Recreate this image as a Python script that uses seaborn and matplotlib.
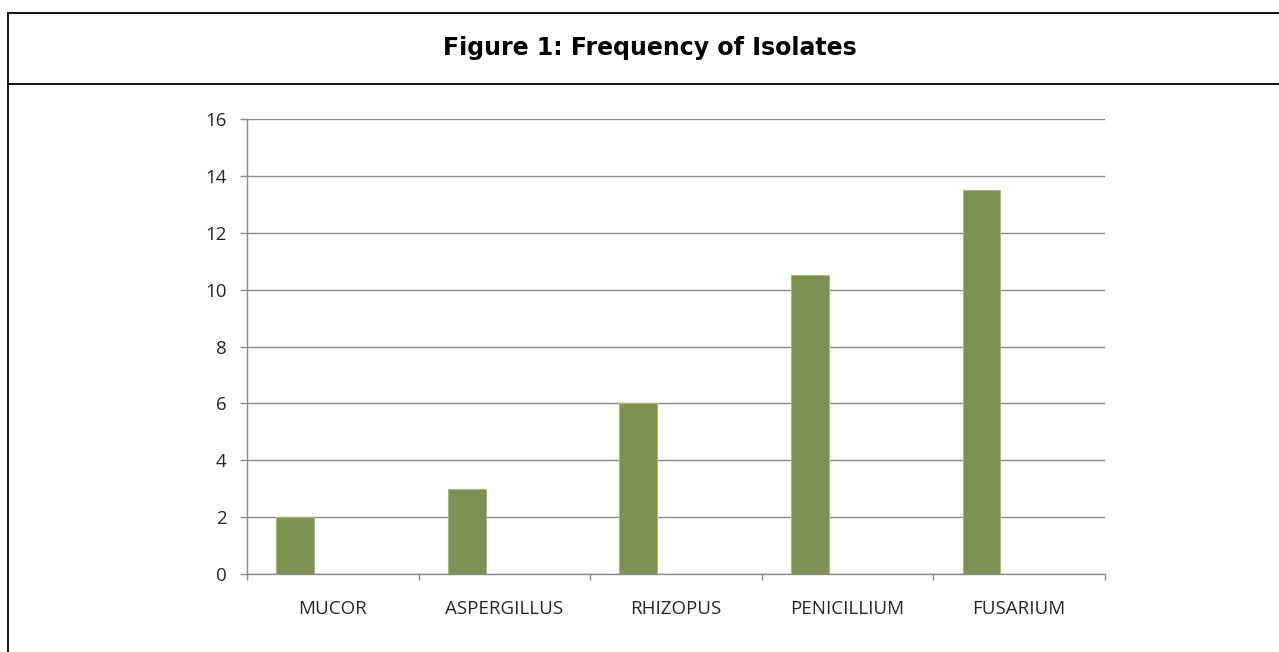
import pandas as pd
import numpy as np
import matplotlib.pyplot as plt
import seaborn as sns
from matplotlib.lines import Line2D

# Данные
isolates = ['MUCOR', 'ASPERGILLUS', 'RHIZOPUS', 'PENICILLIUM', 'FUSARIUM']
frequency = [2, 3, 6, 10.5, 13.5]
# пустые серии из исходной таблицы (Excel оставил под них место)
series_names = ['Series1', 'Series2', 'Series3']
empty_series = [np.nan] * len(isolates)

df = pd.DataFrame({
    'isolate': isolates * 3,
    'series': [s for s in series_names for _ in isolates],
    'value': frequency + empty_series + empty_series,
})

sns.set_style('white')
plt.rcParams['font.family'] = ['DejaVu Sans']

fig = plt.figure(figsize=(12.79, 6.52), dpi=100)
ax = fig.add_axes([0.1931, 0.1196, 0.6709, 0.6979])

sns.barplot(data=df, x='isolate', y='value', hue='series', hue_order=series_names,
            palette=['#7F9B49', '#7F9B49', '#7F9B49'], width=0.66, gap=0,
            edgecolor='#A3BC78', linewidth=0.8, legend=False, ax=ax, errorbar=None)

ax.set_ylim(0, 16)
ax.set_yticks(np.arange(0, 17, 2))
ax.set_xlim(-0.5, len(isolates) - 0.5)
ax.set_xlabel('')
ax.set_ylabel('')
ax.yaxis.grid(True, color='#8C8C8C', linewidth=1)
ax.set_axisbelow(True)

for s in ['top', 'right']:
    ax.spines[s].set_visible(False)
for s in ['left', 'bottom']:
    ax.spines[s].set_color('#8C8C8C')
    ax.spines[s].set_linewidth(1)

ax.set_xticks(np.arange(-0.5, len(isolates), 1), minor=True)
ax.tick_params(which='both', bottom=True, left=True)
ax.tick_params(axis='x', which='major', length=0, pad=19, labelsize=13.5, labelcolor='#262626')
ax.tick_params(axis='x', which='minor', length=4.5, color='#8C8C8C', width=1)
ax.tick_params(axis='y', length=5, color='#8C8C8C', width=1, pad=9.5, labelsize=13.5, labelcolor='#262626')
for lab in ax.get_xticklabels() + ax.get_yticklabels():
    lab.set_fontfamily(['Open Sans', 'DejaVu Sans'])

# рамка таблицы с заголовком
fig.add_artist(Line2D([0.0059, 1.0], [0.980, 0.980], color='black', linewidth=1.3, transform=fig.transFigure))
fig.add_artist(Line2D([0.0059, 1.0], [0.871, 0.871], color='black', linewidth=1.3, transform=fig.transFigure))
fig.add_artist(Line2D([0.0059, 0.0059], [0.0, 0.980], color='black', linewidth=1.3, transform=fig.transFigure))

fig.text(0.508, 0.927, 'Figure 1: Frequency of Isolates', ha='center', va='center',
         fontsize=17, fontweight='bold', color='black')

fig.savefig('out.png', dpi=100)
